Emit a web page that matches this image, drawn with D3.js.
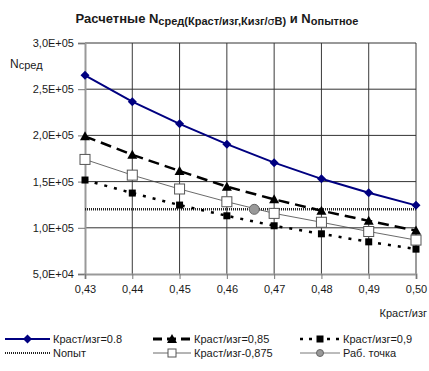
<!DOCTYPE html>
<html>
<head>
<meta charset="utf-8">
<script src="https://cdn.jsdelivr.net/npm/d3@7"></script>
<style>
  html, body { margin: 0; padding: 0; background: #fff; }
  svg { display: block; font-family: "Liberation Sans", Arial, sans-serif; }
</style>
</head>
<body>
<svg id="chart" width="429" height="371"></svg>
<script>
// Ratio Краст/изг along the x axis
const xValues = [0.43, 0.44, 0.45, 0.46, 0.47, 0.48, 0.49, 0.50];
const xTickLabels = ["0,43", "0,44", "0,45", "0,46", "0,47", "0,48", "0,49", "0,50"];

// Calculated N for each Краст/изг ratio
const nK080  = [265000, 236500, 212500, 190500, 170500, 153000, 138000, 124300];
const nK085  = [199000, 179000, 161500, 144500, 130800, 118500, 107500, 97000];
const nK0875 = [174000, 157000, 142000, 128200, 115600, 106000, 96000, 86700];
const nK090  = [151700, 137600, 124600, 113000, 102200, 93500, 84800, 76900];

// Experimental N and the working point
const nExperiment = 120000;
const workPoint = [0.4658, 120000];

const yTicks = [50000, 100000, 150000, 200000, 250000, 300000];
const yTickLabels = ["5,0E+04", "1,0E+05", "1,5E+05", "2,0E+05", "2,5E+05", "3,0E+05"];

const svg = d3.select("#chart");
const plot = { left: 85, right: 416, top: 43, bottom: 274 };

const x = d3.scaleLinear().domain([0.43, 0.50]).range([plot.left, plot.right]);
const y = d3.scaleLinear().domain([50000, 300000]).range([plot.bottom, plot.top]);

const textColor = "#1a1a1a";

// Grid
const grid = svg.append("g");
grid.selectAll("line.v").data(xValues.slice(1)).join("line")
  .attr("x1", d => x(d)).attr("x2", d => x(d))
  .attr("y1", plot.top).attr("y2", plot.bottom)
  .attr("stroke", "#3a3a3a").attr("stroke-width", 1);
grid.selectAll("line.h").data(yTicks.slice(1)).join("line")
  .attr("x1", plot.left).attr("x2", plot.right)
  .attr("y1", d => y(d)).attr("y2", d => y(d))
  .attr("stroke", "#333").attr("stroke-width", 1);

// Axes
const yAxis = d3.axisLeft(y).tickValues(yTicks)
  .tickFormat((d, i) => yTickLabels[i]).tickSize(7).tickPadding(4);
const yG = svg.append("g").attr("transform", `translate(${plot.left},0)`).call(yAxis);
const xAxis = d3.axisBottom(x).tickValues(xValues)
  .tickFormat((d, i) => xTickLabels[i]).tickSize(5).tickPadding(6);
const xG = svg.append("g").attr("transform", `translate(0,${plot.bottom})`).call(xAxis);
[yG, xG].forEach(g => {
  g.select(".domain").attr("stroke", "#999").attr("stroke-width", 2);
  g.selectAll(".tick line").attr("stroke", "#777");
  g.selectAll(".tick text").attr("fill", textColor)
    .style("font-size", "11px").style("font-family", "Liberation Sans, Arial, sans-serif");
});

const line = d3.line().x((d, i) => x(xValues[i])).y(d => y(d));

// Series styles
const series = [
  { name: "Краст/изг=0.8",   values: nK080,  stroke: "#000080", width: 2,   dash: null,  marker: "diamond" },
  { name: "Краст/изг=0,85",  values: nK085,  stroke: "#000",    width: 2.5, dash: "11,6", marker: "triangle" },
  { name: "Краст/изг=0,9",   values: nK090,  stroke: "#000",    width: 2.5, dash: "3,7",  marker: "square" },
  { name: "Краст/изг-0,875", values: nK0875, stroke: "#444",    width: 0.8, dash: null,  marker: "open" }
];

function drawMarker(g, type, cx, cy) {
  if (type === "diamond") {
    g.append("path").attr("d", `M${cx},${cy-4.5}L${cx+4.5},${cy}L${cx},${cy+4.5}L${cx-4.5},${cy}Z`)
      .attr("fill", "#000080");
  } else if (type === "triangle") {
    g.append("path").attr("d", `M${cx},${cy-5}L${cx+5},${cy+4}L${cx-5},${cy+4}Z`).attr("fill", "#000");
  } else if (type === "square") {
    g.append("rect").attr("x", cx-3.5).attr("y", cy-3.5).attr("width", 7).attr("height", 7).attr("fill", "#000");
  } else if (type === "open") {
    g.append("rect").attr("x", cx-5).attr("y", cy-5).attr("width", 10).attr("height", 10)
      .attr("fill", "#fff").attr("stroke", "#555").attr("stroke-width", 1);
  } else if (type === "circle") {
    g.append("circle").attr("cx", cx).attr("cy", cy).attr("r", 5)
      .attr("fill", "#999").attr("stroke", "#666").attr("stroke-width", 1);
  }
}

// Experimental horizontal line
svg.append("line")
  .attr("x1", plot.left).attr("x2", plot.right)
  .attr("y1", y(nExperiment)).attr("y2", y(nExperiment))
  .attr("stroke", "#222").attr("stroke-width", 2.5).attr("stroke-dasharray", "1,1");

// Series lines
const drawOrder = [series[0], series[3], series[1], series[2]];
drawOrder.forEach(s => {
  svg.append("path").datum(s.values).attr("d", line)
    .attr("fill", "none").attr("stroke", s.stroke).attr("stroke-width", s.width)
    .attr("stroke-dasharray", s.dash);
});
drawOrder.forEach(s => {
  const g = svg.append("g");
  s.values.forEach((v, i) => drawMarker(g, s.marker, x(xValues[i]), y(v)));
});

// Working point
drawMarker(svg.append("g"), "circle", x(workPoint[0]), y(workPoint[1]));

// Title
const title = svg.append("text").attr("x", 217).attr("y", 23).attr("text-anchor", "middle")
  .attr("fill", textColor).style("font-weight", "bold").style("font-size", "13px");
title.append("tspan").text("Расчетные N");
title.append("tspan").attr("dy", 2).style("font-size", "11px").text("сред(Краст/изг,Кизг/");
title.append("tspan").style("font-size", "11px").style("font-family", "DejaVu Sans").style("font-weight", "normal").text("σ");
title.append("tspan").style("font-size", "11px").text("В)");
title.append("tspan").attr("dy", -2).text(" и N");
title.append("tspan").attr("dy", 2).style("font-size", "11px").text("опытное");

// Axis labels
const yl = svg.append("text").attr("x", 10).attr("y", 68).attr("fill", textColor).style("font-size", "12px");
yl.append("tspan").text("N");
yl.append("tspan").attr("dy", 1).style("font-size", "11px").text("сред");
svg.append("text").attr("x", 427).attr("y", 317).attr("text-anchor", "end")
  .attr("fill", textColor).style("font-size", "11px").text("Краст/изг");

// Legend
const legendItems = [
  { label: "Краст/изг=0.8",   col: 0, row: 0, stroke: "#000080", width: 2,   dash: null,  marker: "diamond" },
  { label: "Краст/изг=0,85",  col: 1, row: 0, stroke: "#000",    width: 3,   dash: "9,5",  marker: "triangle" },
  { label: "Краст/изг=0,9",   col: 2, row: 0, stroke: "#000",    width: 2.5, dash: "3,6",  marker: "square" },
  { label: "Nопыт",           col: 0, row: 1, stroke: "#222",    width: 2,   dash: "1,1",  marker: null },
  { label: "Краст/изг-0,875", col: 1, row: 1, stroke: "#444",    width: 0.8, dash: null,  marker: "open" },
  { label: "Раб. точка",      col: 2, row: 1, stroke: "#555",    width: 0.8, dash: null,  marker: "circle" }
];
const colX = [[5, 50], [153, 191], [300, 340]];
const rowY = [339, 353];
legendItems.forEach(it => {
  const [x1, x2] = colX[it.col];
  const cy = rowY[it.row];
  const g = svg.append("g");
  g.append("line").attr("x1", x1).attr("x2", x2).attr("y1", cy).attr("y2", cy)
    .attr("stroke", it.stroke).attr("stroke-width", it.width).attr("stroke-dasharray", it.dash);
  if (it.marker) {
    const mg = g.append("g");
    if (it.marker === "open") {
      mg.append("rect").attr("x", (x1+x2)/2-4).attr("y", cy-4).attr("width", 8).attr("height", 8)
        .attr("fill", "#fff").attr("stroke", "#555");
    } else if (it.marker === "circle") {
      mg.append("circle").attr("cx", (x1+x2)/2).attr("cy", cy).attr("r", 3.5)
        .attr("fill", "#999").attr("stroke", "#666");
    } else {
      drawMarker(mg, it.marker, (x1+x2)/2, cy);
    }
  }
  g.append("text").attr("x", x2 + 3).attr("y", cy + 4).attr("fill", textColor)
    .style("font-size", "11px").text(it.label);
});
</script>
</body>
</html>
